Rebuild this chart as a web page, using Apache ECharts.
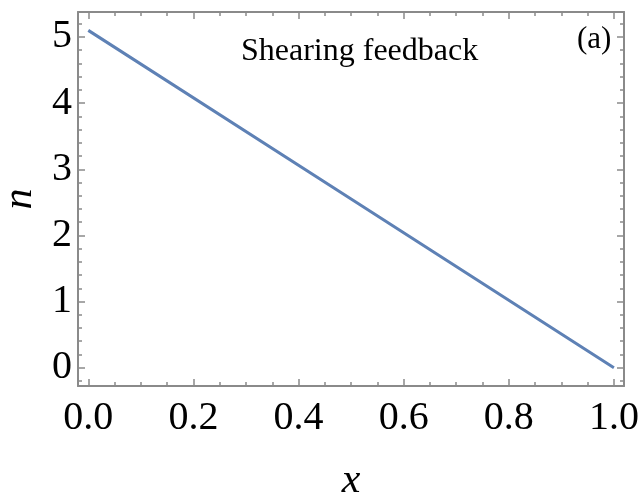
<!DOCTYPE html>
<html>
<head>
<meta charset="utf-8">
<script src="https://cdn.jsdelivr.net/npm/echarts@6/dist/echarts.min.js"></script>
<style>
  html, body { margin: 0; padding: 0; background: #fff; }
  #chart { width: 638px; height: 496px; }
</style>
</head>
<body>
<div id="chart"></div>
<script>
// n(x) for the shearing-feedback case
const xValues = [0, 0.5, 1];
const nValues = [5.1, 2.55, 0];

const xMajorTicks = [0, 0.2, 0.4, 0.6, 0.8, 1.0];
const xMinorTicks = [0.05, 0.1, 0.15, 0.25, 0.3, 0.35, 0.45, 0.5, 0.55, 0.65, 0.7, 0.75, 0.85, 0.9, 0.95];
const yMajorTicks = [0, 1, 2, 3, 4, 5];
const yMinorTicks = [-0.2, 0.2, 0.4, 0.6, 0.8, 1.2, 1.4, 1.6, 1.8, 2.2, 2.4, 2.6, 2.8, 3.2, 3.4, 3.6, 3.8, 4.2, 4.4, 4.6, 4.8, 5.2];

const xRange = [-0.0196, 1.0192];
const yRange = [-0.277, 5.378];

const SERIF = '"Liberation Serif", "Times New Roman", serif';
const FRAME = '#8a8a8a';

function frameAxis(position, ticks, len, showLine, labels, extra) {
  const horizontal = position === 'bottom' || position === 'top';
  return Object.assign({
    type: 'value',
    position: position,
    min: horizontal ? xRange[0] : yRange[0],
    max: horizontal ? xRange[1] : yRange[1],
    axisLine: { show: showLine, onZero: false, lineStyle: { color: FRAME, width: 2 } },
    axisTick: { show: true, inside: true, length: len, customValues: ticks,
                lineStyle: { color: FRAME, width: 1.5 } },
    axisLabel: labels ? Object.assign({ show: true, customValues: ticks, color: '#000',
                fontFamily: SERIF, fontSize: 40 }, labels) : { show: false },
    splitLine: { show: false }
  }, extra || {});
}

const chart = echarts.init(document.getElementById('chart'), null, { renderer: 'canvas' });
chart.setOption({
  animation: false,
  backgroundColor: '#ffffff',
  grid: { left: 78, top: 12, right: 14, bottom: 110, containLabel: false, outerBoundsMode: 'none' },
  xAxis: [
    frameAxis('bottom', xMajorTicks, 7, true,
      { margin: 12, formatter: v => v.toFixed(1) },
      { name: 'x', nameLocation: 'middle', nameGap: 74,
        nameTextStyle: { fontFamily: SERIF, fontStyle: 'italic', fontSize: 42, color: '#000' } }),
    frameAxis('bottom', xMinorTicks, 4, false, null),
    frameAxis('top', xMajorTicks, 7, true, null),
    frameAxis('top', xMinorTicks, 4, false, null)
  ],
  yAxis: [
    frameAxis('left', yMajorTicks, 7, true,
      { margin: 6, formatter: v => String(Math.round(v)) },
      { name: 'n', nameLocation: 'middle', nameGap: 33,
        nameTextStyle: { fontFamily: SERIF, fontStyle: 'italic', fontSize: 42, color: '#000' } }),
    frameAxis('left', yMinorTicks, 4, false, null),
    frameAxis('right', yMajorTicks, 7, true, null),
    frameAxis('right', yMinorTicks, 4, false, null)
  ],
  graphic: [
    { type: 'text', left: 241, top: 36,
      style: { text: 'Shearing feedback', fontFamily: SERIF, fontSize: 32, fill: '#000' } },
    { type: 'text', left: 577, top: 24,
      style: { text: '(a)', fontFamily: SERIF, fontSize: 31, fill: '#000' } }
  ],
  series: [{
    type: 'line',
    xAxisIndex: 0,
    yAxisIndex: 0,
    data: xValues.map((x, i) => [x, nValues[i]]),
    showSymbol: false,
    lineStyle: { color: '#5e81b5', width: 3 },
    silent: true
  }]
});
</script>
</body>
</html>
